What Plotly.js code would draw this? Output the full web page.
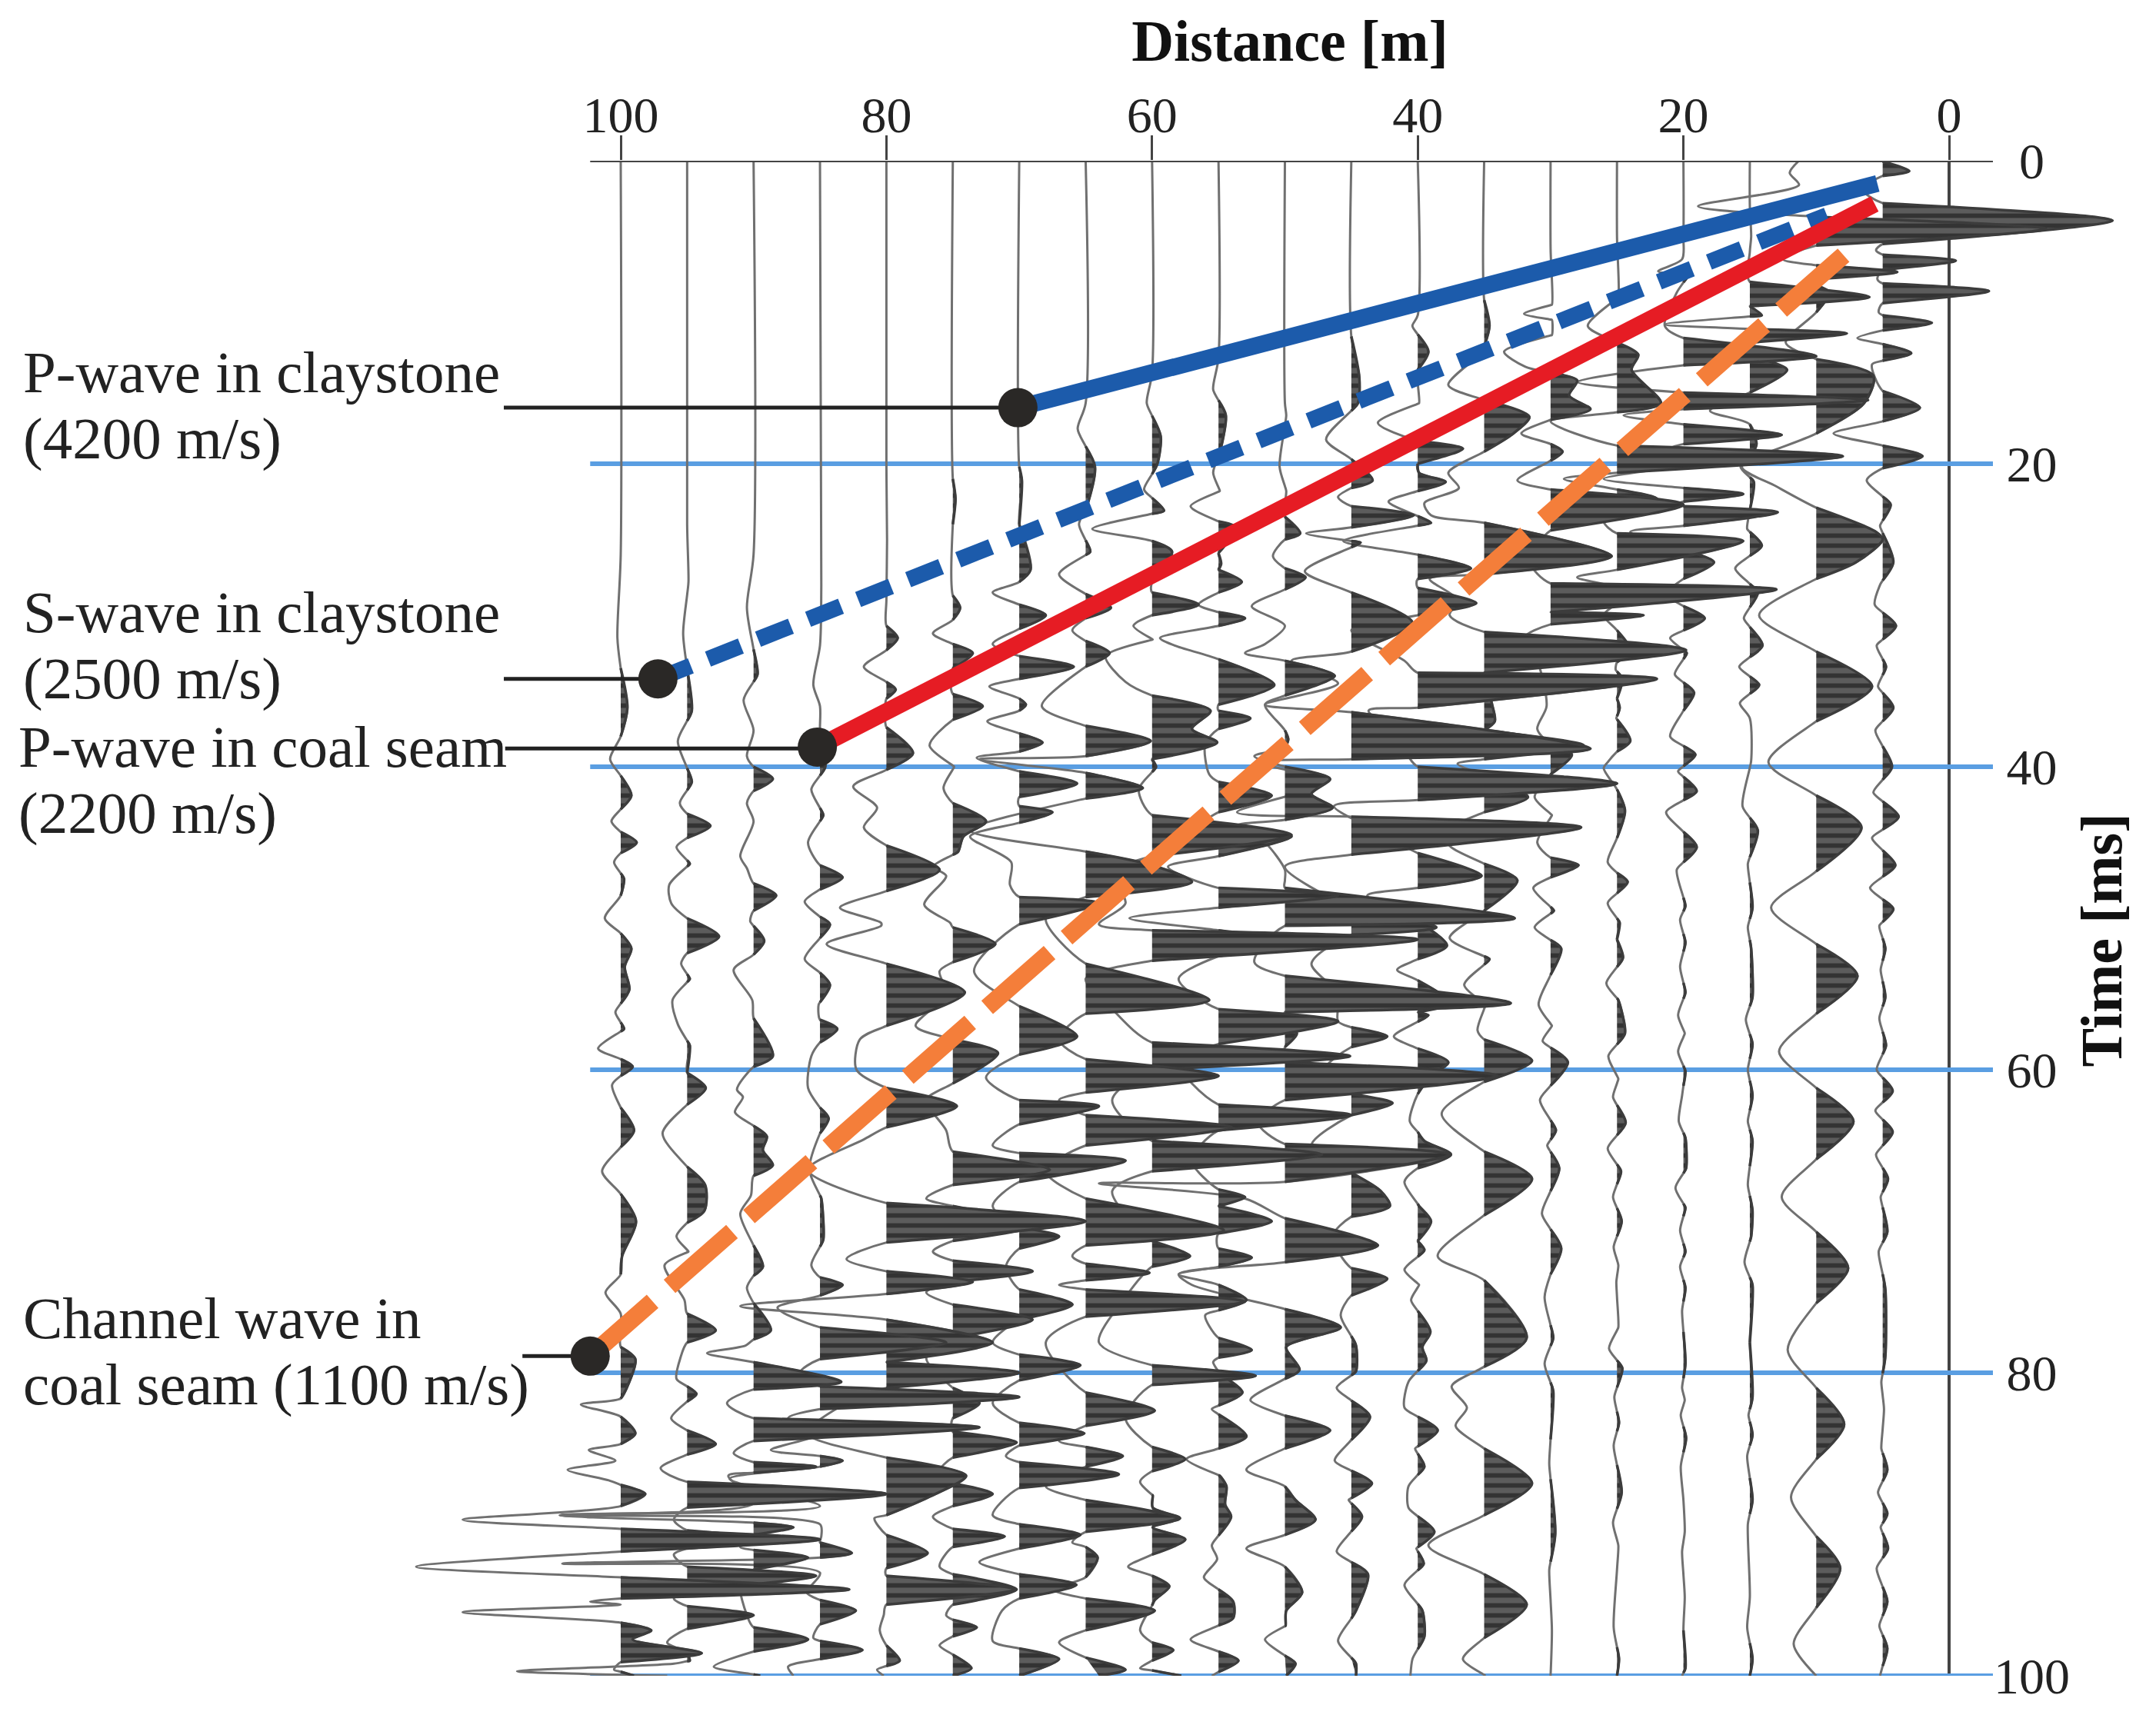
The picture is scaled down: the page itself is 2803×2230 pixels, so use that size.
<!DOCTYPE html>
<html><head><meta charset="utf-8">
<script src="https://cdn.plot.ly/plotly-3.0.1.min.js"></script>
<style>html,body{margin:0;padding:0;background:#fff}</style></head>
<body><div id="chart" style="width:2803px;height:2230px"></div>
<script>
// Seismic wiggles: [time ms, excursion in metres of offset; + is to the right, towards 0 m]
const wiggle5=[[0,0],[.05,0],[.68,2],[1,0],[1.9,-1.5],[2.8,0],[3.95,17.3],[5.5,0],[5.9,-.5],[6.2,0],[6.6,5.5],[7.2,0],[7.8,-.4],[8.1,0],[8.6,8],[9.4,0],[10,-.3],[10.2,0],[10.7,3.7],[11.2,0],[11.7,-1.9],[12.1,0],[12.7,2.15],[13.2,0],[13.45,-.8],[15.2,0],[16.3,2.8],[17.2,0],[18,-3.7],[18.8,0],[19.5,3],[20.3,0],[21.1,-1.2],[22.7,.6],[24.1,-.2],[26.5,.8],[28,-.2],[29.3,-.6],[30.7,1],[32,-.45],[33.4,.25],[34.7,-.35],[36.1,.8],[37.6,-.55],[40,.7],[41.7,-.7],[43.3,1.2],[44.7,-.8],[46.5,.95],[48,-.95],[49.4,.8],[50.5,-.25],[52,.2],[53.4,-.15],[55.2,.2],[56.6,-.25],[58.4,.25],[60,-.45],[61.4,.75],[62.7,-.55],[64.1,.75],[65.6,-.5],[67.2,.4],[68.4,-.15],[70.7,.35],[72,-.3],[74.5,.2],[78.9,.2],[80.6,-.1],[82.4,.1],[85,-.1],[86.4,.35],[87.9,-.35],[89.3,.35],[90.2,-.15],[91.6,.4],[92.9,-.45],[95.1,.35],[96.7,-.25],[98.2,.35],[100,-.2]];
const wiggle10=[[0,-1.3],[.8,-2],[1.6,-1.3],[3,-8.9],[3.7,0],[4.5,17.3],[5.6,0],[6.5,-2.5],[6.9,0],[7.35,6.1],[7.8,0],[8,-.5],[8.7,1],[10,0],[12,-2.3],[13.1,0],[14.2,4.3],[16,3.6],[18,0],[20.2,-5.6],[21.5,-3],[22.9,0],[24.5,4.5],[25,5],[26.5,3],[27.6,0],[30,-4.3],[32.4,0],[34.7,4.2],[37,0],[39.7,-3.6],[41.9,0],[44,3.4],[46.9,0],[49.3,-3.4],[51.7,0],[53.8,3.1],[56.3,0],[58.8,-2.8],[61.2,0],[63.4,2.8],[65.9,0],[68.4,-2.6],[70.7,0],[73.1,2.4],[75.4,0],[78.5,-2.15],[81,0],[83.4,2.1],[85.7,0],[88.2,-1.9],[90.8,0],[92.9,1.8],[95.5,0],[97.9,-1.7],[100,0]];
const wiggle15=[[0,0],[3,0],[5,.1],[6,0],[8,0],[9,9],[9.6,0],[10.2,.9],[10.8,-6.4],[11.1,0],[11.4,7.3],[12,0],[12.9,0],[13.8,2.8],[15.3,0],[16.5,-3],[17.4,0],[18.7,.5],[19.3,.2],[20.2,-.7],[21.2,.3],[24.3,-.2],[25.4,.9],[26.9,-1.1],[28.5,.6],[30.2,-.45],[32,.95],[33.4,-.8],[34.6,.7],[35.8,-.75],[36.8,0],[39.6,.1],[42.6,-.55],[44.2,.6],[46.4,-.15],[49.3,.2],[50.6,-.15],[52,.1],[55.2,.2],[56.7,-.3],[58.3,.2],[60,-.15],[61.7,.2],[63.4,-.15],[64.7,.2],[67.6,-.15],[69.3,.2],[71,.1],[72.7,-.4],[74.2,.2],[78,0],[81.6,.2],[82.8,-.1],[84.1,.2],[85.5,-.2],[88.4,.2],[90,-.15],[94.8,0],[96.8,-.2],[98.9,.2],[100,0]];
const wiggle20=[[0,0],[5,0],[6.5,-.1],[7.3,-1.9],[7.5,.4],[8.7,-.5],[10.9,-1.4],[11.7,0],[12.9,10],[13.5,0],[14.6,-8],[15.3,0],[15.8,13.9],[16.4,0],[16.8,-4.5],[17.4,0],[18.1,7.4],[18.7,0],[19,-1],[20,1],[21,-6],[21.6,0],[22,4.5],[22.5,0],[22.6,-.3],[22.8,0],[23.2,7.1],[24.1,0],[24.5,-4],[25.7,0],[26.5,2.3],[27.6,0],[28.6,-1.3],[29.4,0],[30.2,1.6],[31.5,-1],[32.5,.25],[33.9,-.65],[35.1,.8],[36.3,0],[38,-1],[39.2,.9],[40.3,-.4],[41.6,1],[43,-1.3],[45.3,1],[46.8,-.5],[49.2,.15],[50.1,-.25],[51.6,.15],[53.2,-.25],[54.9,.15],[56.4,-.4],[57.6,.1],[58.8,-.4],[60.1,.15],[61.7,-.1],[63.4,-.35],[64.5,.15],[66.5,.2],[67.8,-.6],[69.1,.15],[70.6,-.25],[72,.15],[73,-.25],[74.4,.15],[75.9,-.1],[79.4,.15],[81,-.1],[81.8,.1],[82.8,-.2],[84.3,.2],[86.2,-.2],[88.4,0],[90.5,.1],[91.8,-.1],[94.8,.1],[97,0],[99.5,.15],[100,-.1]];
const wiggle25=[[0,0],[5,0],[9,.1],[10.9,-2.2],[12,0],[12.8,1.6],[13.8,1.1],[16,3.3],[16.6,0],[17.2,-5],[18.8,0],[19.5,17],[20.6,0],[21,-4],[21.7,0],[22.3,3],[23,0],[23.8,-1],[24.6,0],[25.1,9.5],[27,0],[27.5,-3],[28.2,0],[28.7,.5],[29.2,0],[30,-1],[31,0],[32.3,1],[33.1,0],[33.6,-.1],[34.2,.4],[35.5,0],[36.1,.2],[36.8,-.05],[38.3,1],[39,0],[39.7,-.7],[40.1,-1],[41.5,0],[42.9,.6],[44.7,0],[46.3,-.7],[47,0],[47.6,.8],[49,-.7],[50.3,.2],[51.4,0],[52.6,.45],[54.3,-.8],[55.4,.1],[57.6,.6],[59.1,-.65],[60.6,.1],[61.8,-.3],[63.5,.65],[65.2,-.7],[66.7,.3],[68.4,-.3],[70,.35],[71.7,-.25],[72.9,.1],[74,-.05],[77,.1],[78.4,-.6],[79.7,.4],[81.6,-.2],[83.3,.15],[84.8,-.25],[87.9,.35],[89.9,-.3],[91.4,.1],[93,0],[96.8,-.25],[98.9,.15],[100,0]];
const wiggle30=[[0,0],[5.8,0],[9.5,.1],[10.1,-2],[10.5,.1],[11.5,.1],[12.6,-3.5],[13.6,-1.9],[14,0],[14.5,2],[15.5,1.4],[16.4,3],[17.1,0],[18,-2.2],[18.7,0],[19.2,.9],[19.8,0],[21.1,-2.5],[21.7,0],[22.7,10],[24.4,0],[26.5,-1.5],[27.9,0],[28.3,17],[29.8,0],[30,7],[30.6,0],[31.5,-2],[33,-1],[36,-.3],[37.5,-1],[38.5,0],[39.2,1.6],[40.5,0],[42,-1.2],[43.2,.1],[45,-1],[46,0],[46.5,2.1],[47.3,0],[48,-1.3],[49.5,.25],[50.6,-1.2],[52,.8],[55.7,-.9],[57.1,.1],[58.1,-.6],[59.5,1.3],[62,-.8],[64,.4],[65,-.25],[66.5,.65],[69.5,-.65],[71.8,.8],[73.5,0],[75,-.45],[77.7,.2],[79.4,-.45],[81.2,.2],[86,-.1],[90.6,.35],[93,-.1],[97,.1],[100,0]];
const wiggle35=[[0,0],[9.2,0],[10.9,.4],[12.6,-.1],[14.8,-2.7],[15.8,0],[16.9,3.4],[18,2.2],[19.2,0],[20.6,-2.7],[21.6,-1.9],[22.6,-4.5],[23.4,-4],[23.9,0],[26.1,9.6],[27.3,0],[27.6,-4.1],[29,-2],[30,-2.6],[31.1,0],[32.3,15.2],[33.8,0],[35.9,.6],[37,.8],[37.6,0],[38.6,7.5],[39.5,0],[39.8,-2],[40.6,0],[42,3.3],[43,0],[44.4,-3.2],[45.3,-2.5],[46.4,0],[47.5,2.5],[49.5,0],[51.3,-2.6],[52.7,.4],[54.4,-1.5],[55.7,.1],[57.4,-.5],[58,0],[59.4,3.6],[60.8,0],[62.9,-3.2],[65.4,0],[67.2,3.6],[69.6,0],[72.3,-3.5],[73.9,0],[77.7,3.2],[79.6,0],[80.9,-2.45],[82.3,-1.3],[83.5,-2.15],[85,0],[87.3,3.6],[89.4,0],[91.4,-4.2],[93.3,0],[95.3,3.2],[97.5,0],[98.9,-1.6],[100,.1]];
const wiggle40=[[0,0],[10.2,0],[10.9,-.4],[12.6,.8],[13.8,0],[16,.1],[17.3,-3],[18.5,0],[19,3.4],[20,0],[20.6,.1],[21.2,2.1],[21.8,0],[22.5,-2.2],[23.9,1],[25.1,-5.6],[26,0],[26.9,4],[27.6,0],[28.2,0],[29.2,4.4],[30,0],[31,-5],[33,-1],[33.8,0],[34.2,18],[36.1,0],[36.3,-3.7],[38,-1.5],[40,0],[41.1,15],[42.2,0],[42.6,-6.3],[44.5,-2.5],[45.7,0],[47.2,4.8],[48,0],[48.5,-3.8],[50.2,0],[51.8,2.2],[52.7,0],[53.4,-1.55],[54.1,0],[55.6,2.5],[56.2,0],[56.4,.8],[57.8,-1.8],[58.6,0],[59.5,2.3],[60.4,1],[61.6,0],[63.4,-.6],[64.7,.5],[65.6,2.5],[66.5,0],[67.4,-1],[69,.1],[70,1],[71.3,0],[71.9,.5],[73.2,-1],[74.2,.1],[75.2,-.5],[77.3,.95],[78.3,.35],[79.2,.65],[80.6,-.7],[82.3,-1],[83.8,1.5],[85,-.2],[86.2,.5],[87.5,-.7],[88.9,-.7],[90.5,1.25],[91.6,-.1],[92.6,.45],[94,-1],[95.7,.35],[97.4,.5],[98.9,-.4],[100,-.55]];
const wiggle45=[[0,0],[11.6,0],[14.3,.6],[16,.5],[18.4,-1.9],[19.7,0],[21.1,1.6],[21.6,0],[22.2,-1],[22.8,0],[23.4,4.7],[24.2,0],[24.6,-3.4],[25.2,.7],[27.1,-3.5],[28.5,0],[30.5,4.6],[32.4,0],[33,-4.5],[34.5,-1],[35.9,-6.5],[36.4,0],[38.8,18],[39.5,0],[39.7,-7],[41,-2],[43,-8.6],[43.3,0],[44,17.3],[45.8,0],[46.6,-5],[49.3,0],[50.6,6.4],[51.1,0],[53,-3],[55,-1],[56.8,-1],[57.2,0],[57.8,2.7],[58.5,0],[60,-2],[61.6,0],[62.2,3.1],[63,0],[65,-3],[66.8,0],[68,2.2],[69,2.9],[69.7,0],[71,-1.4],[73.1,0],[73.8,2.7],[74.9,0],[76.2,-.8],[78.2,.35],[79.9,.35],[81,-1.1],[82.9,1.4],[85.8,-1.25],[87.3,1.55],[88.4,-.2],[89.5,.8],[91.8,-1.1],[93.3,1.25],[95.7,.35],[97.7,-1],[99.2,.35],[100,.35]];
const wiggle50=[[0,0],[16,0],[16.8,.1],[20.2,-.4],[21.8,.1],[23.5,0],[24.6,1.15],[25,0],[26.1,-.9],[26.9,0],[27.5,1.55],[28.3,0],[29.4,-2.5],[30.7,0],[31.9,-1.5],[32.5,-3],[33,0],[34,3.75],[35.3,0],[35.9,-1.5],[37.6,0],[38.2,.25],[38.7,0],[39.3,-2.3],[40,0],[40.8,3.4],[41.8,2],[42.7,3.6],[43.5,0],[43.9,-3.6],[45,-1.5],[46.8,0],[47.5,0],[48,0],[50,17.3],[50.5,0],[52.9,-2.3],[53.8,0],[55.6,17],[56.2,0],[56.9,0],[57.6,.9],[58.5,0],[59.5,0],[60.4,16],[62,0],[63.5,-2],[64.9,0],[65.6,12.4],[67.4,0],[67.5,-14],[68.5,-3],[69.8,0],[71.6,7],[72.7,0],[73.5,-8],[74.2,-7],[75.8,0],[77,4.2],[78.3,.1],[79.8,1.1],[80.4,0],[81.8,-2.6],[82.8,-.1],[83.8,3.4],[85,0],[86.4,-2.9],[87.5,0],[88.4,.8],[89.7,2.3],[90.7,0],[91.6,-2.9],[92.8,0],[94.5,1.3],[95.7,.1],[96.7,.05],[97.6,-1.5],[98.7,.05],[99.2,.8],[100,.1]];
const wiggle55=[[0,0],[13,0],[15.1,-.4],[16.8,.55],[18.9,.2],[20.6,-.4],[21.8,.1],[22.8,-2.1],[23.8,0],[24.2,1.3],[25.9,0],[26.6,.2],[27,0],[27.8,1.75],[28.5,0],[29.3,-1.5],[29.8,0],[30.2,2],[30.7,0],[31.5,-4.4],[32,-3.3],[32.9,0],[34.6,4.2],[35.9,0],[36.3,0],[36.8,2.4],[37.5,0],[38.5,-1],[40.5,-.7],[41,0],[41.9,4],[43,0],[43.5,-.8],[44,0],[44.6,5.5],[45.9,0],[46.6,-3.8],[48,0],[48.5,9],[49.3,0],[50,-6.7],[50.8,0],[51.5,5],[52.5,0],[54,-3],[56,0],[56.8,9],[58.3,0],[59.5,-3],[62.3,0],[63,10],[64,0],[66,-2],[67.9,0],[68.4,2],[69,0],[70,4],[70.8,0],[71.8,0],[72.4,2.5],[73,0],[73.5,-3],[74.2,0],[75.2,2.1],[76.2,-1],[77.7,0],[78.5,2.5],[79,0],[79.3,-.4],[80,.05],[81.3,1.8],[82.4,-.5],[84.2,2.1],[85,0],[85.7,-2.4],[86.8,.1],[87.5,.6],[88.7,.5],[89.5,.95],[91.4,-.5],[92.3,-.1],[93.5,-1.1],[94.3,0],[95.1,1.1],[96.2,1.1],[97.6,-2.1],[98.4,0],[99,1.5],[100,-.5]];
const wiggle60=[[0,0],[14,0],[16,-.4],[18.2,.65],[20,.4],[21.7,-.6],[23.1,.9],[24.3,-4.5],[25.1,0],[25.8,1.5],[27.8,0],[28.5,0],[29.3,3.5],[30,0],[30.7,-1.4],[31.6,.05],[32.7,-3.5],[34.4,-2],[35.3,0],[36.3,4.4],[37.5,3],[38.4,4.9],[39.5,0],[40,.3],[41.5,-1],[43.2,0],[44.5,10.5],[45.9,0],[47,-3],[49,-2],[50.4,-4],[50.8,0],[51.4,20],[52.8,0],[54,-5],[56,-3],[58.2,0],[59.1,14.9],[60,0],[62,-3],[64.7,0],[65.6,12.8],[66.7,0],[68,-3],[71.3,0],[72.3,2.85],[73,0],[75,-2],[78,-4],[79.5,0],[80.2,7.8],[80.8,0],[83,-2],[84.9,0],[85.7,2.5],[86.5,0],[87.2,-.9],[88.1,.05],[88.9,.05],[89.6,2.1],[90.2,.05],[91,2.5],[92,0],[92.8,-1.8],[93.4,0],[94.1,1.3],[95,.2],[97,-.9],[97.8,0],[98.3,1.6],[99,0],[99.5,-.9],[100,2.2]];
const wiggle65=[[0,0],[16,0],[17.7,-.6],[20.2,.7],[22.5,.2],[24,-.5],[25.8,.35],[27.3,-2],[28.6,0],[29.5,1.9],[30.2,0],[31,-1],[31.7,0],[32.5,1.8],[33.4,0],[36,-3.3],[37.3,0],[38.3,4.9],[39.3,0],[39.5,-8],[40.4,0],[41.4,4.3],[42.1,0],[44.2,-8.7],[45.6,0],[46.5,5],[47.6,8],[48.6,0],[50,-3],[53,0],[55.4,9.3],[56.3,0],[58,-2],[59.3,0],[60.4,10],[61.5,0],[62,-2],[63,0],[63.8,11],[65,0],[66.7,-3],[68.5,0],[70.6,10.4],[71.6,0],[72.3,-1],[72.8,0],[73.4,4.8],[73.9,0],[74.2,-2],[74.5,0],[75.3,12],[76.3,0],[78,-3],[81.3,0],[82.5,5.2],[83.5,0],[84.5,-2],[84.9,0],[85.5,2.8],[86.2,0],[87.5,-3],[88.4,0],[89.6,6.9],[90.5,0],[91.2,-1],[91.5,0],[92.2,.9],[93.5,0],[94.3,-2.5],[94.9,0],[95.7,5.2],[97,0],[97.8,-2],[98.8,0],[99.6,3],[100,1]];
const wiggle70=[[0,0],[20.2,0],[21.1,.2],[24,0],[27,.85],[27.8,0],[28.5,-2],[29.3,0],[30,2],[30.9,0],[31.9,-2],[32.7,0],[33.4,4.1],[34.2,0],[34.7,-2.25],[35.5,0],[35.9,.5],[36.3,0],[37,-2.4],[37.8,0],[38.4,1.75],[39,0],[39.4,-3.2],[40.3,0],[41.1,4.35],[42,0],[42.6,0],[43,2.5],[43.7,0],[44.6,-3.7],[46.3,-.6],[47.8,-.7],[48.6,0],[49,6],[50.4,0],[53.5,-3.4],[55.8,0],[57.8,4.35],[59,0],[60.5,-2.5],[62,0],[62.4,6],[63.6,0],[65,-2],[65.5,0],[66,8],[67.4,0],[69,-2],[70.4,0],[71,3],[71.8,0],[73,-1],[74.5,0],[75.5,4],[76.5,0],[78,-2],[78.8,0],[79.5,4.6],[80.5,0],[82,-2],[83.3,0],[84,4.9],[84.8,0],[85.5,-1],[85.9,0],[86.7,7.5],[87.6,0],[89.4,-2],[90,0],[90.7,4.6],[91.6,0],[92.5,-3],[93.3,0],[94,4.3],[94.9,0],[95.7,-1.3],[97.7,-2],[98.2,0],[98.9,3],[100,0]];
const wiggle75=[[0,0],[21,0],[22.3,.2],[24,0],[28.7,0],[29.5,.55],[30.3,0],[31.2,-1.5],[31.9,0],[32.5,1.5],[33.5,0],[35.2,0],[36,2.25],[36.9,0],[38.6,-1.75],[40,.1],[41.4,-.7],[42.4,0],[43.6,2.5],[44.6,.8],[45.6,.4],[46.6,-1.5],[47.2,-.5],[49.1,-2.15],[50.3,-.2],[50.6,0],[51.7,3.2],[52.9,0],[53.5,-1],[55,-.5],[57.1,-2.8],[58,0],[58.9,3.4],[60.9,0],[62,-2],[64,-.5],[65.4,0],[66.6,7.3],[67.6,0],[68.5,-2],[69,0],[70.3,6],[71.3,0],[72,-1.5],[72.6,0],[73.3,6],[74,0],[74.7,-2],[75.5,0],[76.5,6],[77.7,0],[79,-2],[81,0],[82,2],[83,0],[83.9,0],[84.6,4.8],[85.6,0],[86.5,-1],[87.3,0],[88,3],[88.8,0],[89.5,-1.5],[90.3,0],[90.8,3.9],[91.5,0],[92.8,-1],[93.3,0],[94.3,4.8],[95.3,0],[96,-.5],[96.3,0],[96.8,1.8],[97.4,0],[98,-1],[98.6,0],[99.5,1.4],[100,0]];
const wiggle80=[[0,0],[20,0],[25,.05],[29,0],[30.7,0],[31.5,.85],[32.3,0],[33.4,-1.7],[34.4,0],[34.9,.7],[35.5,0],[36.3,-.1],[37.4,0],[39.1,2],[40.2,0],[41.3,-2.5],[42.7,-.7],[44,-1.7],[45.2,0],[46.8,4],[48.2,0],[49.3,-3.5],[50.3,-.4],[50.5,-.4],[51.7,-4.5],[53,0],[54.9,5.9],[57.1,0],[58,-2],[60,-2.25],[61.2,0],[62.4,5.3],[63.8,0],[64.6,-1.7],[66.6,-5.9],[68.8,0],[70,15],[71.4,0],[72.5,-3],[73.3,0],[74,6.5],[74.8,0],[75.6,-11],[76.5,0],[78,8],[79.3,0],[80,10],[81,0],[82.5,-4],[84,-6],[85.6,0],[86.8,6],[88.2,3.2],[89.4,0],[89.6,-.9],[90.7,0],[91.9,3.1],[92.9,0],[93.4,0],[94.3,9.7],[95.3,0],[96,-.2],[97,-.5],[98,0],[99,1],[99.6,-.7],[100,-.2]];
const wiggle85=[[0,0],[28,.1],[32,0],[34.6,-.5],[36,0],[38,0],[40,.4],[41.5,-.65],[43.2,.25],[45,-.9],[46.5,0],[47.3,1.7],[48.1,0],[48.9,-1.15],[49.9,0],[50.4,.75],[51.3,0],[52.7,-1.15],[53.6,0],[54.4,.75],[55.7,-.1],[56.7,0],[57.3,1.3],[58.2,0],[59.1,-.65],[61.2,-.9],[62.5,0],[63.2,.65],[64.2,0],[66.6,-.8],[68.5,.1],[71.2,.25],[72.9,-.65],[73.7,0],[74.2,1.7],[74.9,0],[75.7,-3.2],[77,0],[78,9.5],[79.1,0],[80,-1.5],[80.9,0],[81.6,15],[82.4,0],[83,-2.4],[84,0],[85.1,-3.7],[85.5,0],[85.8,1.7],[86.2,0],[87,-6.8],[88.8,0],[89.4,-19.6],[90,0],[90.8,.1],[91.2,0],[91.9,2.4],[92.2,0],[92.6,-19.4],[93.2,0],[94.5,-1],[95,0],[95.7,2.7],[96.6,0],[97.5,-.5],[97.7,0],[98.3,3.2],[98.9,0],[99.4,-2.4],[100,-2]];
const wiggle90=[[0,0],[26,0],[29.5,-.5],[33.9,.3],[35.6,-.75],[37.6,0],[39.3,-.5],[40,0],[40.8,1.45],[41.6,0],[42.4,-.5],[43.6,0],[45.9,-1],[46.7,-.5],[47.7,0],[48.5,1.7],[49.5,0],[50.2,-.25],[51.5,.8],[52.4,0],[53.4,-1.5],[55.4,-.1],[56.6,0],[59.1,1.45],[59.8,0],[61.3,-1.25],[61.8,-.8],[62.8,-1.4],[63.7,0],[64.4,1],[65.3,.7],[66.3,1.45],[67,0],[68.3,-.2],[69.5,-1],[71.6,0],[73,.7],[73.6,0],[74.4,-.5],[75.4,0],[77.2,1.3],[77.8,0],[78.2,-.6],[78.7,-3.5],[79.3,0],[80.6,6.6],[81.1,0],[82,-2],[83,0],[83.6,17],[84.5,0],[85.3,-1.5],[85.9,0],[86.2,4.7],[86.6,0],[86.8,-1.9],[88.6,0],[89.4,-14.5],[89.9,0],[90.2,3],[90.7,0],[91.5,-1],[91.7,0],[92.2,4.1],[93,0],[94,-1],[96,-.5],[96.8,0],[97.6,4.1],[98.4,0],[99.4,-3],[100,.5]];
const wiggle95=[[0,0],[24,0],[27.8,.1],[31.2,-.3],[36.3,.35],[38.3,-.7],[41,.35],[42.4,-.55],[43.1,0],[43.9,1.75],[44.7,0],[45.3,-.8],[46.4,.2],[47.8,-1.35],[49,-1.2],[50,0],[51.2,2.4],[52.3,0],[53,-.45],[54,.2],[55.4,-1.1],[57,-.7],[58.4,.2],[60.2,0],[61.2,1.4],[62.3,0],[64.2,-1.85],[66.4,0],[67.6,1.35],[69.3,1.3],[70.1,0],[71,-.8],[72,.1],[72.9,-1.7],[75.2,-.2],[76.1,0],[77.2,2.15],[78,0],[79,-.5],[80.4,-.8],[80.9,0],[81.4,.7],[81.9,0],[83,-1.2],[83.8,0],[84.7,2.15],[85.4,0],[86.3,-2],[87.2,0],[88,15],[88.9,0],[89.7,-1],[90.4,0],[91,6],[91.6,0],[92,-1],[92.8,0],[93.4,9.7],[94.4,0],[94.9,-1],[95.4,0],[96,5],[96.9,0],[97.8,-1.5],[98.5,0],[99,.2],[99.2,-1],[99.7,-12.8],[100,-1.5]];
const wiggle100=[[0,0],[26,0],[31.5,-.25],[33.5,0],[36.1,.5],[38,0],[39.5,-.8],[40.6,0],[41.9,.8],[42.8,0],[43.6,-.7],[44.3,0],[45,1.2],[45.7,0],[46.3,-.5],[47.4,.25],[48.5,0],[50,-1.2],[51,0],[52,.8],[53.2,.3],[54.7,.65],[56.2,-.4],[57.3,.25],[58.6,-1.7],[59.3,0],[59.8,.9],[60.4,0],[61,-.65],[62.5,0],[64,1],[65.1,0],[66.7,-1.4],[68.2,0],[70,1.15],[72.3,.1],[73.5,0],[74.7,-1.15],[76.1,0],[78.3,0],[79.1,1.1],[81.1,.4],[81.7,0],[82.1,-3],[82.9,0],[84,1.1],[84.7,0],[85.1,-2.4],[85.8,-.4],[86.4,-4],[87.1,-.9],[87.4,0],[88,1.85],[88.8,0],[89.7,-11.9],[90.3,0],[91,15],[91.8,0],[92.8,-15.4],[93.5,0],[94.3,17.2],[94.9,0],[95.1,-2.3],[95.3,0],[95.8,-11.9],[96.5,0],[97,2.3],[97.6,.9],[98.5,6.1],[99.1,0],[99.6,-.5],[100,1]];

const wiggleSet=[[5,wiggle5],[10,wiggle10],[15,wiggle15],[20,wiggle20],[25,wiggle25],[30,wiggle30],[35,wiggle35],[40,wiggle40],[45,wiggle45],[50,wiggle50],[55,wiggle55],[60,wiggle60],[65,wiggle65],[70,wiggle70],[75,wiggle75],[80,wiggle80],[85,wiggle85],[90,wiggle90],[95,wiggle95],[100,wiggle100]];

// Arrival lines
const pWaveClay={x:[70.1,5.4],t:[16.3,1.5]};
const sWaveClay={x:[97.2,9.2],t:[34.2,3.6]};
const pWaveCoal={x:[85.2,5.6],t:[38.7,2.85]};
const channelWave={x:[102.3,7.9],t:[78.9,6.2]};
// Leader lines from the labels to the dots
const leaders=[{x:[108.8,70.1],t:[16.3,16.3]},{x:[108.8,97.2],t:[34.2,34.2]},{x:[108.7,85.2],t:[38.8,38.8]},{x:[107.4,102.3],t:[78.9,78.9]}];

const distanceTicks=[100,80,60,40,20,0];
const timeTicks=[0,20,40,60,80,100];
const timeTickText=['\u00a0\u00a00','\u00a020','\u00a040','\u00a060','\u00a080','100'];
const labelLines=[['P-wave in claystone',28,484],['(4200 m/s)',28,570],['S-wave in claystone',28,796],['(2500 m/s)',28,882],['P-wave in coal seam',22,971],['(2200 m/s)',22,1057],['Channel wave in',28,1714],['coal seam (1100 m/s)',28,1800]];
const axisSpan=[102.3,-3.3];

const T=209,B=2179;
const serif='"Liberation Serif","Times New Roman",serif';
const traces=[];

// Horizontal time lines under the wiggles
timeTicks.forEach(t=>{ if(t>0) traces.push({type:'scatter',mode:'lines',x:axisSpan,y:[t,t],line:{color:'#5a9ee2',width:6},hoverinfo:'skip',showlegend:false}); });

function expand(pts){
  const s=pts.slice().sort((a,b)=>a[0]-b[0]),o=[];
  s.forEach((p,i)=>{
    if(i){const q=s[i-1];
      if(q[1]*p[1]<0){const f=q[1]/(q[1]-p[1]);o.push([q[0]+f*(p[0]-q[0]),0]);}
    }
    o.push(p);
  });
  return o;
}
const fillTraces=[],lineTraces=[];
wiggleSet.forEach(([base,pts])=>{
  const e=expand(pts);
  const fx=[],fy=[];
  let i=0;
  while(i<e.length){
    if(e[i][1]>0){
      const start=i>0?i-1:i;let j=i,peak=0;
      while(j<e.length&&e[j][1]>0){peak=Math.max(peak,e[j][1]);j++;}
      const end=Math.min(j,e.length-1);
      if(peak>=.15){
        for(let k=start;k<=end;k++){fx.push(base-e[k][1]);fy.push(e[k][0]);}
        fx.push(null);fy.push(null);
      }
      i=j;
    } else i++;
  }
  fillTraces.push({type:'scatter',mode:'lines',x:fx,y:fy,fill:'toself',fillcolor:'#4a4a4a',
    fillpattern:{shape:'-',size:13,solidity:.45,fgcolor:'#333333',bgcolor:'#5c5c5c'},
    line:{width:3.5,color:'#3c3c3c',shape:'spline',smoothing:.8},hoverinfo:'skip',showlegend:false});
  lineTraces.push({type:'scatter',mode:'lines',x:e.map(p=>base-p[1]),y:e.map(p=>p[0]),
    line:{color:'#707070',width:3,shape:'spline',smoothing:.8},hoverinfo:'skip',showlegend:false});
});
traces.push(...lineTraces,...fillTraces);
traces.push({type:'scatter',mode:'lines',x:axisSpan,y:[0,0],line:{color:'#444',width:4},hoverinfo:'skip',showlegend:false});

leaders.forEach(l=>traces.push({type:'scatter',mode:'lines',x:l.x,y:l.t,line:{color:'#222',width:5},showlegend:false}));
const arrival=(d,color,w,dash)=>traces.push({type:'scatter',mode:'lines',x:d.x,y:d.t,line:{color:color,width:w,dash:dash},showlegend:false});
arrival(pWaveClay,'#1c5bab',22,'solid');
arrival(sWaveClay,'#1c5bab',21,'46px,24px');
arrival(pWaveCoal,'#e61c24',22,'solid');
arrival(channelWave,'#f47e3a',23,'108px,29.4px');
traces.push({type:'scatter',mode:'markers',
  x:[pWaveClay.x[0],sWaveClay.x[0],pWaveCoal.x[0],channelWave.x[0]],
  y:[pWaveClay.t[0],sWaveClay.t[0],pWaveCoal.t[0],channelWave.t[0]],
  marker:{size:51,color:'#2a2826'},cliponaxis:false,showlegend:false});

const annotations=labelLines.map(([text,px,py])=>({text:text,xref:'paper',yref:'paper',
  x:px/2803,y:1-(py-T)/(B-T),xanchor:'left',yanchor:'middle',showarrow:false,
  font:{family:serif,size:77,color:'#222'}}));

// The plot area spans the whole width so that long excursions are not clipped;
// 1 m = 17.27 px with 0 m at x = 2534 px. Non-breaking spaces centre the axis titles as in the figure.
const pad=n=>'\u00a0'.repeat(n);
Plotly.newPlot('chart',traces,{
  width:2803,height:2230,paper_bgcolor:'#fff',plot_bgcolor:'#fff',showlegend:false,
  margin:{l:0,r:0,t:T,b:2230-B,pad:0},
  font:{family:serif,color:'#222'},
  xaxis:{side:'top',range:[2534/17.27,-269/17.27],tickmode:'array',tickvals:distanceTicks,ticktext:distanceTicks.map(String),
    showgrid:false,zeroline:true,zerolinecolor:'#444',zerolinewidth:4,showline:false,
    ticks:'outside',ticklen:32,tickwidth:3,tickcolor:'#444',ticklabelstandoff:-22,tickfont:{family:serif,size:66,color:'#222'},
    title:{text:'<b>'+pad(29)+'Distance [m]</b>',font:{family:serif,size:76,color:'#111'},standoff:7}},
  yaxis:{side:'right',anchor:'free',position:2591/2803,range:[100,0],tickmode:'array',tickvals:timeTicks,ticktext:timeTickText,
    showgrid:false,zeroline:false,showline:false,ticks:'',
    tickfont:{family:serif,size:66,color:'#222'},
    title:{text:'<b>Time [ms]'+pad(3)+'</b>',font:{family:serif,size:76,color:'#111'},standoff:14}},
  annotations:annotations
},{staticPlot:true,displayModeBar:false});
</script></body></html>
